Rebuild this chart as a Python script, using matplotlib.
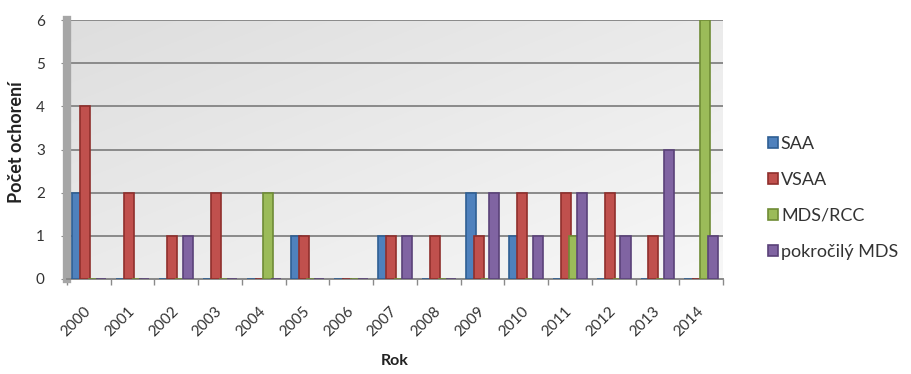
import matplotlib
matplotlib.use("Agg")
import matplotlib.pyplot as plt
import numpy as np

years = ["2000", "2001", "2002", "2003", "2004", "2005", "2006", "2007",
         "2008", "2009", "2010", "2011", "2012", "2013", "2014"]
saa = [2, 0, 0, 0, 0, 1, 0, 1, 0, 2, 1, 0, 0, 0, 0]
vsaa = [4, 2, 1, 2, 0, 1, 0, 1, 1, 1, 2, 2, 2, 1, 0]
mds_rcc = [0, 0, 0, 0, 2, 0, 0, 0, 0, 0, 0, 1, 0, 0, 6]
pokrocily = [0, 0, 1, 0, 0, 0, 0, 1, 0, 2, 1, 2, 1, 3, 1]
series_names = ["SAA", "VSAA", "MDS/RCC", "pokročilý MDS"]
colors = ["#4F81BD", "#C0504D", "#9BBB59", "#8064A2"]
edges = ["#2f5f93", "#8f2f2c", "#6f8c36", "#5a4279"]

plt.rcParams['font.family'] = ['Lato', 'DejaVu Sans']

fig = plt.figure(figsize=(9.11, 3.74), dpi=100)
ax = fig.add_axes([67/911, 1-279/374, (723-67)/911, (279-20)/374])

# gradient background
grad = np.linspace(0, 1, 256)
gx, gy = np.meshgrid(grad, grad)
g = 0.5*gx + 0.5*gy
img = np.zeros((256, 256, 3))
top = np.array([0.87, 0.87, 0.87])
bot = np.array([0.97, 0.97, 0.97])
for c in range(3):
    img[:, :, c] = top[c]*(1-g) + bot[c]*g
ax.imshow(img, extent=[0, 1, 0, 1], transform=ax.transAxes, aspect='auto',
          origin='upper', zorder=0)

x = np.arange(len(years))
w = 0.23
offsets = [-0.27, -0.09, 0.09, 0.27]
data = [saa, vsaa, mds_rcc, pokrocily]
for vals, off, col, ec, name in zip(data, offsets, colors, edges, series_names):
    ax.bar(x + off, vals, width=w, color=col, edgecolor=ec, linewidth=1.2,
           label=name, zorder=3)

ax.set_xlim(-0.5, len(years) - 0.5)
ax.set_ylim(0, 6)
ax.set_yticks(range(0, 7))
ax.yaxis.grid(True, color="#8a8a8a", linewidth=1.4, zorder=1)
ax.set_axisbelow(True)

ax.set_xticks(x)
ax.set_xticklabels(years, rotation=45, ha='right', va='center',
                   rotation_mode='anchor', fontsize=11, color="#333333")
ax.tick_params(axis='x', length=0, pad=22)
ax.set_xticks(np.arange(-0.5, len(years)), minor=True)
ax.tick_params(axis='x', which='minor', length=4, color="#8a8a8a", width=1)
ax.tick_params(axis='y', length=4, color="#8a8a8a", labelsize=11,
               labelcolor="#333333", pad=12)

for s in ['top', 'right']:
    ax.spines[s].set_visible(False)
ax.spines['left'].set_color("#a6a6a6")
ax.spines['left'].set_linewidth(6)
ax.spines['bottom'].set_color("#8a8a8a")
ax.spines['bottom'].set_linewidth(1.4)

ax.set_ylabel("Počet ochorení", fontsize=13, fontweight='bold', color="#222222")
ax.yaxis.set_label_coords(-0.064, 0.53)
ax.set_xlabel("Rok", fontsize=11.5, fontweight='bold', color="#222222")
ax.xaxis.set_label_coords(0.5, -0.29)

leg = fig.legend(loc='center left', bbox_to_anchor=(752/911, 1-198/374),
                 frameon=False, fontsize=13, handlelength=0.55, handleheight=0.55,
                 handletextpad=0.15, labelspacing=1.1)
for t in leg.get_texts():
    t.set_color("#333333")

fig.savefig("out.png", dpi=100)
